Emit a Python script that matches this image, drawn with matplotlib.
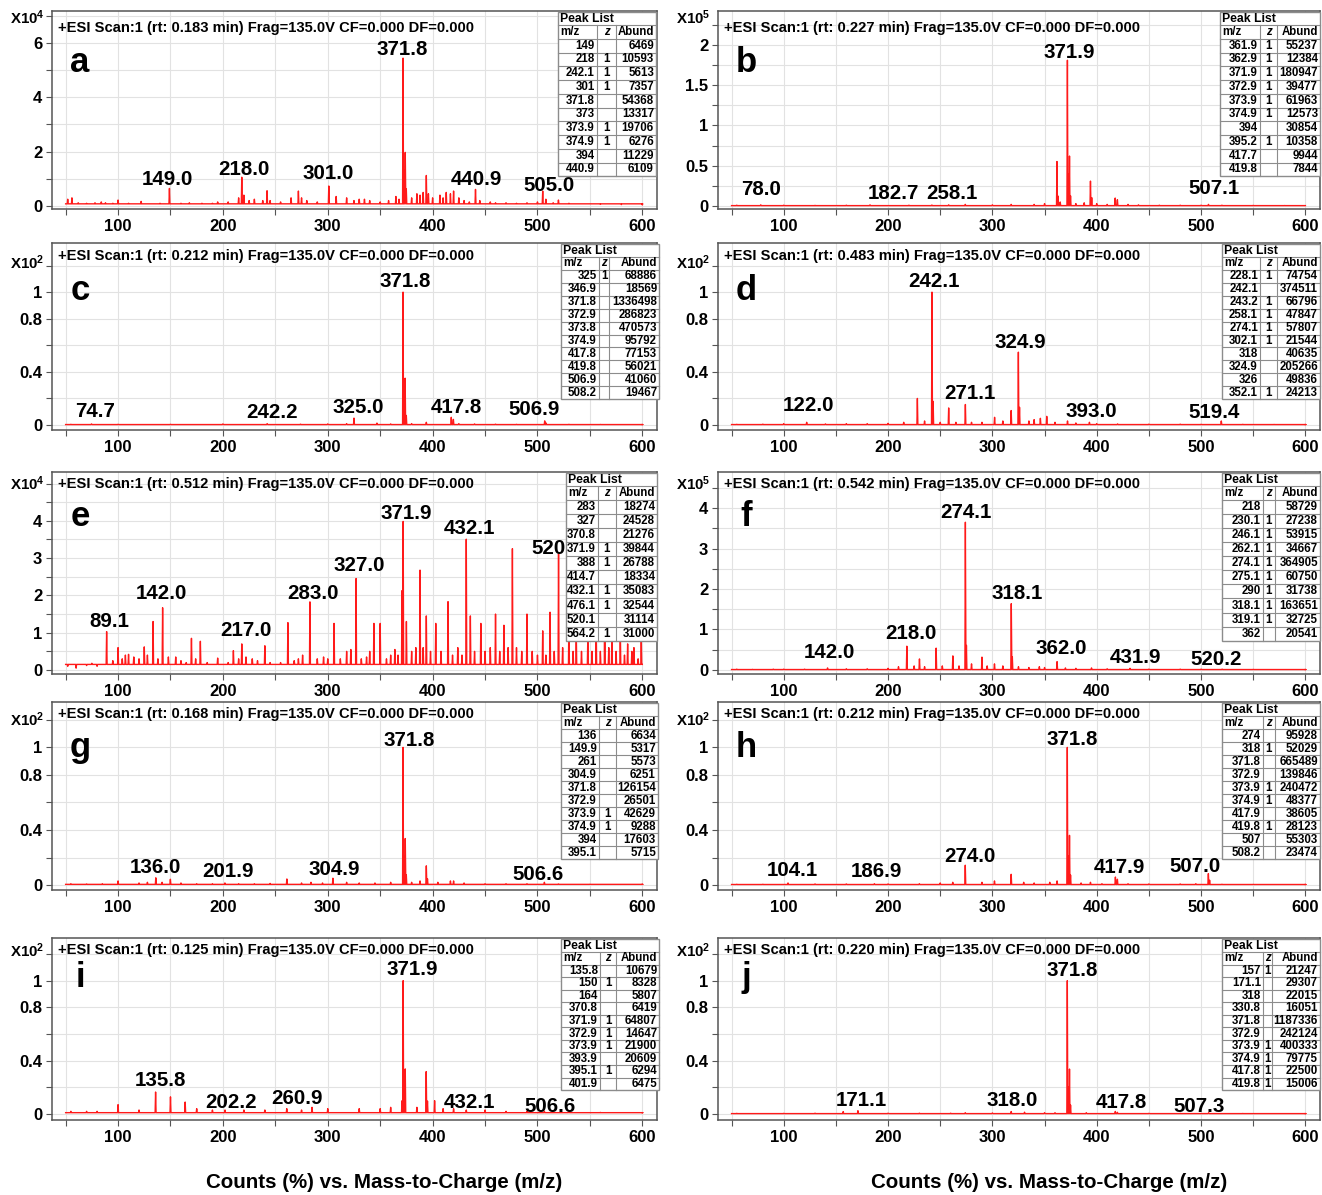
import matplotlib
matplotlib.use("Agg")
import matplotlib.pyplot as plt
from matplotlib import transforms
from matplotlib.patches import Rectangle
from matplotlib.lines import Line2D
from matplotlib.ticker import FixedLocator, MultipleLocator

plt.rcParams['font.family'] = ['Liberation Sans', 'DejaVu Sans']
plt.rcParams['font.weight'] = 'bold'
plt.rcParams['mathtext.fontset'] = 'custom'
plt.rcParams['mathtext.rm'] = 'Liberation Sans:bold'
plt.rcParams['mathtext.bf'] = 'Liberation Sans:bold'
plt.rcParams['mathtext.default'] = 'bf'

# ---------------- data (heights in axis units) ----------------
a_mz = [52, 56, 62, 70, 78, 84, 88, 95, 100, 110, 122, 130, 140, 149, 160, 168, 180, 190, 195, 205,
        215, 218, 220, 225, 230, 238, 242.1, 245, 255, 265, 272, 275, 280, 290, 301, 308, 318, 325,
        330, 335, 340, 350, 358, 365, 368, 371.8, 373, 373.9, 374.9, 380, 385, 388, 391, 394, 396,
        400, 407, 410, 413, 417, 420, 425, 430, 435, 440.9, 445, 455, 460, 470, 480, 490, 500, 505,
        508, 515, 520, 530, 540, 560, 580, 600]
a_h = [0.25, 0.3, 0.12, 0.1, 0.12, 0.15, 0.12, 0.1, 0.22, 0.1, 0.17, 0.08, 0.1, 0.647, 0.1, 0.12, 0.1,
       0.1, 0.15, 0.15, 0.3, 1.059, 0.4, 0.2, 0.25, 0.2, 0.561, 0.2, 0.15, 0.3, 0.55, 0.3, 0.2, 0.15,
       0.736, 0.35, 0.3, 0.2, 0.25, 0.25, 0.2, 0.15, 0.2, 0.35, 0.25, 5.437, 1.332, 1.971, 0.628, 0.3,
       0.45, 0.4, 0.5, 1.123, 0.45, 0.3, 0.4, 0.3, 0.5, 0.45, 0.55, 0.3, 0.2, 0.15, 0.611, 0.2, 0.15,
       0.12, 0.12, 0.1, 0.12, 0.15, 0.55, 0.25, 0.12, 0.22, 0.1, 0.08, 0.06, 0.05, 0.04]
a_lab = ["149.0", "218.0", "301.0", "371.8", "440.9", "505.0"]
a_lab_x = [147.5, 220, 300.5, 371, 442, 511]
a_lab_y = [0.96, 1.36, 1.18, 5.74, 0.96, 0.77]
a_tab = [("149", "", "6469"), ("218", "1", "10593"), ("242.1", "1", "5613"), ("301", "1", "7357"),
         ("371.8", "", "54368"), ("373", "", "13317"), ("373.9", "1", "19706"),
         ("374.9", "1", "6276"), ("394", "", "11229"), ("440.9", "", "6109")]

b_mz = [55, 78, 100, 130, 160, 182.7, 220, 242, 258.1, 274, 300, 318, 340, 350, 361.9, 362.9, 365,
        371.9, 372.9, 373.9, 374.9, 380, 388, 394, 395.2, 400, 410, 417.7, 419.8, 430, 440, 460,
        480, 500, 507.1, 520, 550, 580]
b_h = [0.01, 0.015, 0.01, 0.008, 0.01, 0.015, 0.01, 0.012, 0.015, 0.02, 0.015, 0.02, 0.02, 0.03,
       0.552, 0.124, 0.05, 1.809, 0.395, 0.62, 0.126, 0.03, 0.04, 0.309, 0.104, 0.03, 0.02, 0.099,
       0.078, 0.02, 0.015, 0.01, 0.01, 0.01, 0.02, 0.01, 0.008, 0.006]
b_lab = ["78.0", "182.7", "258.1", "371.9", "507.1"]
b_lab_x = [78.7, 205, 261, 374, 512.7]
b_lab_y = [0.2, 0.16, 0.16, 1.9, 0.22]
b_tab = [("361.9", "1", "55237"), ("362.9", "1", "12384"), ("371.9", "1", "180947"),
         ("372.9", "1", "39477"), ("373.9", "1", "61963"), ("374.9", "1", "12573"),
         ("394", "", "30854"), ("395.2", "1", "10358"), ("417.7", "", "9944"), ("419.8", "", "7844")]

c_mz = [55, 74.7, 100, 150, 200, 242.2, 274, 300, 318, 325, 346.9, 360, 371.8, 372.9, 373.8, 374.9,
        380, 394, 417.8, 419.8, 425, 440, 460, 480, 506.9, 508.2, 530, 560, 600]
c_h = [0.005, 0.008, 0.005, 0.005, 0.008, 0.01, 0.006, 0.008, 0.01, 0.0515, 0.0139, 0.008, 1.0,
       0.2146, 0.352, 0.0717, 0.01, 0.02, 0.0577, 0.0419, 0.01, 0.008, 0.006, 0.005, 0.0307, 0.0146,
       0.005, 0.004, 0.003]
c_lab = ["74.7", "242.2", "325.0", "371.8", "417.8", "506.9"]
c_lab_x = [77.7, 247, 329, 374, 423, 496.5]
c_lab_y = [0.105, 0.09, 0.128, 1.083, 0.135, 0.113]
c_tab = [("325", "1", "68886"), ("346.9", "", "18569"), ("371.8", "", "1336498"),
         ("372.9", "", "286823"), ("373.8", "", "470573"), ("374.9", "", "95792"),
         ("417.8", "", "77153"), ("419.8", "", "56021"), ("506.9", "", "41060"),
         ("508.2", "", "19467")]

d_mz = [55, 80, 100, 122, 140, 160, 180, 200, 215, 228.1, 235, 242.1, 243.2, 250, 258.1, 265, 274.1,
        280, 290, 302.1, 310, 318, 324.9, 326, 335, 340, 346, 352.1, 360, 372, 380, 393, 400, 420,
        450, 480, 500, 519.4, 540, 570, 600]
d_h = [0.005, 0.006, 0.01, 0.02, 0.008, 0.01, 0.01, 0.012, 0.02, 0.1996, 0.03, 1.0, 0.178, 0.02,
       0.128, 0.02, 0.154, 0.02, 0.02, 0.0575, 0.03, 0.1085, 0.548, 0.133, 0.03, 0.04, 0.05, 0.0647,
       0.02, 0.03, 0.015, 0.02, 0.01, 0.008, 0.006, 0.006, 0.005, 0.03, 0.005, 0.004, 0.003]
d_lab = ["122.0", "242.1", "271.1", "324.9", "393.0", "519.4"]
d_lab_x = [123.6, 244, 278.5, 327, 395, 512.7]
d_lab_y = [0.143, 1.083, 0.24, 0.624, 0.098, 0.09]
d_tab = [("228.1", "1", "74754"), ("242.1", "", "374511"), ("243.2", "1", "66796"),
         ("258.1", "1", "47847"), ("274.1", "1", "57807"), ("302.1", "1", "21544"),
         ("318", "", "40635"), ("324.9", "", "205266"), ("326", "", "49836"), ("352.1", "1", "24213")]

e_mz = [52, 60, 70, 75, 80, 89.1, 95, 100, 104, 107, 110, 115, 120, 125, 128, 133.4, 138, 142.5,
        148, 155, 160, 165, 170, 174, 178.5, 185, 195, 200, 205, 210, 215, 218, 222, 228, 233, 240,
        245, 250, 255, 262, 268, 272, 276, 283, 290, 296, 300, 306, 312, 318, 322, 327, 332, 337,
        340, 344, 350, 356, 360, 364, 367, 370.8, 371.9, 375, 380, 384, 388, 391, 394, 398, 403,
        408, 414.7, 419, 424, 428, 432.1, 436, 440, 446, 450, 455, 460, 464, 468, 472, 476.1, 480,
        485, 490, 495, 500, 505, 508, 512, 516, 520.1, 524, 530, 534, 537, 542, 548, 552, 556, 560,
        564.2, 568, 571, 575, 579, 583, 586, 590, 592, 596, 599]
e_h = [0.1, 0.05, 0.12, 0.18, 0.1, 1.03, 0.25, 0.6, 0.3, 0.4, 0.42, 0.35, 0.3, 0.62, 0.4, 1.3, 0.3,
       1.67, 0.35, 0.35, 0.25, 0.2, 0.85, 0.3, 0.77, 0.2, 0.32, 0.15, 0.2, 0.52, 0.3, 0.7, 0.35, 0.3,
       0.25, 0.65, 0.2, 0.15, 0.2, 1.27, 0.25, 0.3, 0.4, 1.827, 0.3, 0.35, 0.3, 1.25, 0.3, 0.5, 0.55,
       2.453, 0.3, 0.35, 0.5, 1.25, 1.25, 0.3, 0.4, 0.55, 0.4, 2.128, 3.984, 1.3, 0.5, 0.6, 2.679,
       0.6, 1.45, 0.5, 1.25, 0.5, 1.833, 0.4, 0.6, 0.4, 3.508, 1.45, 0.5, 1.25, 0.5, 0.6, 1.5, 0.5,
       1.2, 0.6, 3.254, 0.6, 0.5, 1.5, 0.5, 0.4, 1.05, 0.4, 1.55, 0.5, 3.111, 0.6, 1.4, 0.5, 1.0,
       0.5, 0.8, 0.5, 1.2, 0.5, 3.1, 0.6, 1.0, 0.5, 1.1, 0.4, 0.7, 0.5, 0.6, 0.3, 0.8]
e_lab = ["89.1", "142.0", "217.0", "283.0", "327.0", "371.9", "432.1", "520"]
e_lab_x = [92, 141.8, 222, 286, 330, 375, 435, 511]
e_lab_y = [1.29, 2.04, 1.07, 2.06, 2.79, 4.21, 3.8, 3.27]
e_tab = [("283", "", "18274"), ("327", "", "24528"), ("370.8", "", "21276"), ("371.9", "1", "39844"),
         ("388", "1", "26788"), ("414.7", "", "18334"), ("432.1", "1", "35083"),
         ("476.1", "1", "32544"), ("520.1", "", "31114"), ("564.2", "1", "31000")]

f_mz = [55, 70, 90, 100, 120, 142, 160, 180, 200, 210, 218, 225, 230.1, 235, 246.1, 252, 262.1, 268,
        274.1, 275.1, 280, 290, 295, 302, 310, 318.1, 319.1, 325, 335, 345, 350, 362, 370, 380, 395,
        410, 431.9, 450, 480, 500, 520.2, 550, 580, 600]
f_h = [0.02, 0.015, 0.02, 0.02, 0.02, 0.05, 0.03, 0.03, 0.04, 0.08, 0.587, 0.1, 0.272, 0.08, 0.539,
       0.1, 0.347, 0.1, 3.649, 0.6075, 0.15, 0.317, 0.1, 0.15, 0.1, 1.637, 0.327, 0.08, 0.06, 0.08,
       0.06, 0.205, 0.05, 0.04, 0.05, 0.03, 0.04, 0.02, 0.02, 0.02, 0.02, 0.015, 0.012, 0.01]
f_lab = ["142.0", "218.0", "274.1", "318.1", "362.0", "431.9", "520.2"]
f_lab_x = [143.7, 222, 274.7, 324, 366, 437, 514.6]
f_lab_y = [0.44, 0.89, 3.9, 1.9, 0.52, 0.3, 0.27]
f_tab = [("218", "", "58729"), ("230.1", "1", "27238"), ("246.1", "1", "53915"),
         ("262.1", "1", "34667"), ("274.1", "1", "364905"), ("275.1", "1", "60750"),
         ("290", "1", "31738"), ("318.1", "1", "163651"), ("319.1", "1", "32725"), ("362", "", "20541")]

g_mz = [55, 70, 85, 100, 120, 128, 136, 142, 149.9, 160, 175, 190, 201.9, 215, 230, 245, 261, 275,
        284, 295, 304.9, 318, 330, 345, 360, 371.8, 372.9, 373.9, 374.9, 380, 388, 394, 395.1, 405,
        417, 420, 430, 450, 470, 490, 506.6, 520, 550, 600]
g_h = [0.01, 0.008, 0.01, 0.03, 0.015, 0.02, 0.0526, 0.02, 0.0421, 0.015, 0.01, 0.01, 0.015, 0.01,
       0.01, 0.012, 0.0442, 0.015, 0.02, 0.015, 0.0496, 0.02, 0.015, 0.015, 0.02, 1.0, 0.21, 0.338,
       0.0736, 0.02, 0.03, 0.1395, 0.0453, 0.02, 0.03, 0.03, 0.015, 0.01, 0.01, 0.01, 0.02, 0.008,
       0.006, 0.005]
g_lab = ["136.0", "201.9", "304.9", "371.8", "506.6"]
g_lab_x = [136, 205, 306, 378, 501]
g_lab_y = [0.124, 0.095, 0.116, 1.047, 0.073]
g_tab = [("136", "", "6634"), ("149.9", "", "5317"), ("261", "", "5573"), ("304.9", "", "6251"),
         ("371.8", "", "126154"), ("372.9", "", "26501"), ("373.9", "1", "42629"),
         ("374.9", "1", "9288"), ("394", "", "17603"), ("395.1", "", "5715")]

h_mz = [55, 80, 104.1, 130, 160, 186.9, 200, 230, 250, 262, 274, 290, 302, 318, 330, 340, 355, 362,
        371.8, 372.9, 373.9, 374.9, 385, 394, 405, 417.9, 419.8, 430, 450, 480, 495, 507, 508.2,
        520, 550, 600]
h_h = [0.006, 0.006, 0.015, 0.008, 0.008, 0.01, 0.008, 0.01, 0.015, 0.02, 0.144, 0.02, 0.03, 0.078,
       0.02, 0.015, 0.02, 0.03, 1.0, 0.21, 0.361, 0.0727, 0.015, 0.02, 0.01, 0.058, 0.0423, 0.01,
       0.008, 0.008, 0.01, 0.0831, 0.0353, 0.006, 0.005, 0.004]
h_lab = ["104.1", "186.9", "274.0", "371.8", "417.9", "507.0"]
h_lab_x = [108, 188.6, 278.5, 376, 422, 494.6]
h_lab_y = [0.109, 0.102, 0.204, 1.055, 0.13, 0.138]
h_tab = [("274", "", "95928"), ("318", "1", "52029"), ("371.8", "", "665489"),
         ("372.9", "", "139846"), ("373.9", "1", "240472"), ("374.9", "1", "48377"),
         ("417.9", "", "38605"), ("419.8", "1", "28123"), ("507", "", "55303"), ("508.2", "", "23474")]

i_mz = [55, 70, 80, 100, 120, 135.8, 150, 164, 175, 190, 202, 220, 240, 260.9, 275, 285, 300, 330,
        350, 360, 370.8, 371.9, 372.9, 373.9, 385, 393.9, 395.1, 401.9, 410, 420, 432.1, 450, 470,
        490, 506.6, 530, 560, 600]
i_h = [0.02, 0.02, 0.02, 0.07, 0.03, 0.1648, 0.1285, 0.0896, 0.04, 0.03, 0.03, 0.03, 0.03, 0.04,
       0.03, 0.05, 0.04, 0.04, 0.04, 0.05, 0.099, 1.0, 0.226, 0.338, 0.05, 0.318, 0.097, 0.0999,
       0.04, 0.04, 0.03, 0.03, 0.02, 0.02, 0.02, 0.015, 0.012, 0.01]
i_lab = ["135.8", "202.2", "260.9", "371.9", "432.1", "506.6"]
i_lab_x = [140.8, 207.7, 270.8, 380.8, 435, 511.8]
i_lab_y = [0.248, 0.09, 0.113, 1.083, 0.09, 0.06]
i_tab = [("135.8", "", "10679"), ("150", "1", "8328"), ("164", "", "5807"), ("370.8", "", "6419"),
         ("371.9", "1", "64807"), ("372.9", "1", "14647"), ("373.9", "1", "21900"),
         ("393.9", "", "20609"), ("395.1", "1", "6294"), ("401.9", "", "6475")]

j_mz = [55, 100, 130, 157, 171.1, 200, 230, 260, 274, 300, 318, 330.8, 350, 360, 371.8, 372.9,
        373.9, 374.9, 390, 417.8, 419.8, 450, 480, 507.3, 540, 600]
j_h = [0.005, 0.005, 0.006, 0.0179, 0.0247, 0.006, 0.006, 0.006, 0.01, 0.008, 0.0185, 0.0135, 0.01,
       0.01, 1.0, 0.204, 0.337, 0.0672, 0.01, 0.019, 0.0126, 0.005, 0.005, 0.01, 0.004, 0.003]
j_lab = ["171.1", "318.0", "371.8", "417.8", "507.3"]
j_lab_x = [174, 318.6, 376, 424, 498.4]
j_lab_y = [0.098, 0.098, 1.075, 0.09, 0.053]
j_tab = [("157", "1", "21247"), ("171.1", "", "29307"), ("318", "", "22015"), ("330.8", "", "16051"),
         ("371.8", "", "1187336"), ("372.9", "", "242124"), ("373.9", "1", "400333"),
         ("374.9", "1", "79775"), ("417.8", "1", "22500"), ("419.8", "1", "15006")]

rt_times = ["0.183", "0.227", "0.212", "0.483", "0.512", "0.542", "0.168", "0.212", "0.125", "0.220"]
exponents = [4, 5, 2, 2, 4, 5, 2, 2, 2, 2]

# ---------------- layout (pixels) ----------------
W, H = 1322, 1195
fig = plt.figure(figsize=(W / 100, H / 100), dpi=100)
PX = transforms.Affine2D().scale(1.0 / W, -1.0 / H).translate(0, 1) + fig.transFigure

col_px = [(52, 657), (718, 1320)]
row_px = [(11, 209), (243, 430), (472, 674), (702, 890), (938, 1120)]
exp_y = [18, 263, 484, 720, 951]
exp_x = [10, 676]
title_y = [28, 256, 484, 714, 950]
letter_y = [62, 290, 517, 748, 978]
RED = '#ff1a1a'
GRID = '#e2e2e2'
LINEC = '#8c8c8c'


def spectrum_xy(mz, h, base):
    xs, ys = [50], [base]
    for m, v in sorted(zip(mz, h)):
        xs += [m - 0.45, m, m + 0.45]
        ys += [base, v, base]
    xs.append(600)
    ys.append(base)
    return xs, ys


def draw_table(cols, top, panel_h, rows):
    left, c1, c2, right = cols
    head_h = 13
    n = len(rows) + 1
    row_h = (0.83 * panel_h - head_h) / n
    bottom = top + head_h + n * row_h
    fig.add_artist(Rectangle((left, top), right - left, bottom - top, transform=PX,
                             facecolor='white', edgecolor=LINEC, lw=1.0, zorder=5))
    for k in range(n):
        y = top + head_h + k * row_h
        fig.add_artist(Line2D([left, right], [y, y], transform=PX, color=LINEC, lw=0.8, zorder=6))
    for x in (c1, c2):
        fig.add_artist(Line2D([x, x], [top + head_h, bottom], transform=PX, color=LINEC, lw=0.8,
                              zorder=6))
    fs = 8.3
    fig.text(left + 2, top + head_h / 2 + 0.5, "Peak List", transform=PX, ha='left', va='center',
             fontsize=8.8, zorder=7)
    yh = top + head_h + row_h / 2
    fig.text(left + 2, yh, "m/z", transform=PX, ha='left', va='center', fontsize=fs, zorder=7)
    fig.text((c1 + c2) / 2, yh, "z", transform=PX, ha='center', va='center', fontsize=fs,
             style='italic', zorder=7)
    fig.text(right - 2, yh, "Abund", transform=PX, ha='right', va='center', fontsize=fs, zorder=7)
    for k, (m, z, ab) in enumerate(rows):
        y = top + head_h + (k + 1.5) * row_h
        fig.text(c1 - 2, y, m, transform=PX, ha='right', va='center', fontsize=fs, zorder=7)
        if z:
            fig.text((c1 + c2) / 2, y, z, transform=PX, ha='center', va='center', fontsize=fs,
                     zorder=7)
        fig.text(right - 2, y, ab, transform=PX, ha='right', va='center', fontsize=fs, zorder=7)


def panel(idx, letter, mz, h, base, ylim, yticks, ylabels, yminor, lab, lab_x, lab_y, tab, tcols):
    r, c = idx // 2, idx % 2
    x0, x1 = col_px[c]
    t, b = row_px[r]
    ax = fig.add_axes([x0 / W, 1 - b / H, (x1 - x0) / W, (b - t) / H])
    xs, ys = spectrum_xy(mz, h, base)
    ax.plot(xs, ys, color=RED, lw=1.0)
    ax.set_xlim(37, 614)
    ax.set_ylim(*ylim)
    ax.xaxis.set_major_locator(FixedLocator([100, 200, 300, 400, 500, 600]))
    ax.xaxis.set_minor_locator(MultipleLocator(50))
    ax.yaxis.set_major_locator(FixedLocator(yticks))
    ax.set_yticklabels(ylabels)
    ax.yaxis.set_minor_locator(MultipleLocator(yminor))
    ax.grid(which='both', color=GRID, lw=0.8)
    ax.set_axisbelow(True)
    ax.tick_params(which='both', direction='out', length=4, width=0.8, color='#555555')
    ax.tick_params(axis='both', labelsize=12, pad=3)
    for s in ax.spines.values():
        s.set_color('#555555')
        s.set_linewidth(1.1)
    for txt, lx, ly in zip(lab, lab_x, lab_y):
        ax.text(lx, ly, txt, ha='center', va='center', fontsize=14.8, zorder=4)
    fig.text(x0 + 28, letter_y[r], letter, transform=PX, ha='center', va='center', fontsize=25)
    fig.text(x0 + 6, title_y[r],
             "+ESI Scan:1 (rt: %s min) Frag=135.0V CF=0.000 DF=0.000" % rt_times[idx],
             transform=PX, ha='left', va='center', fontsize=10.6)
    fig.text(exp_x[c], exp_y[r], r"X10$^{%d}$" % exponents[idx], transform=PX, ha='left',
             va='center', fontsize=10.8)
    draw_table(tcols, t + 1, b - t, tab)
    return ax


rel = ["0", "0.4", "0.8", "1"]
relt = [0, 0.4, 0.8, 1]
panel(0, "a", a_mz, a_h, 0.08, (-0.11, 7.17), [0, 2, 4, 6], ["0", "2", "4", "6"], 1,
      a_lab, a_lab_x, a_lab_y, a_tab, (558, 597, 616, 656))
panel(1, "b", b_mz, b_h, 0.005, (-0.037, 2.42), [0, 0.5, 1, 1.5, 2], ["0", "0.5", "1", "1.5", "2"],
      0.25, b_lab, b_lab_x, b_lab_y, b_tab, (1220, 1260, 1277, 1320))
panel(2, "c", c_mz, c_h, 0.003, (-0.038, 1.37), relt, rel, 0.2,
      c_lab, c_lab_x, c_lab_y, c_tab, (561, 599, 609, 659))
panel(3, "d", d_mz, d_h, 0.003, (-0.038, 1.37), relt, rel, 0.2,
      d_lab, d_lab_x, d_lab_y, d_tab, (1222, 1260, 1277, 1320))
panel(4, "e", e_mz, e_h, 0.15, (-0.107, 5.31), [0, 1, 2, 3, 4], ["0", "1", "2", "3", "4"], 0.5,
      e_lab, e_lab_x, e_lab_y, e_tab, (566, 598, 616, 657))
panel(5, "f", f_mz, f_h, 0.01, (-0.1, 4.89), [0, 1, 2, 3, 4], ["0", "1", "2", "3", "4"], 0.5,
      f_lab, f_lab_x, f_lab_y, f_tab, (1222, 1263, 1275, 1320))
panel(6, "g", g_mz, g_h, 0.005, (-0.036, 1.33), relt, rel, 0.2,
      g_lab, g_lab_x, g_lab_y, g_tab, (561, 599, 616, 658))
panel(7, "h", h_mz, h_h, 0.004, (-0.036, 1.33), relt, rel, 0.2,
      h_lab, h_lab_x, h_lab_y, h_tab, (1222, 1263, 1275, 1320))
panel(8, "i", i_mz, i_h, 0.01, (-0.045, 1.32), relt, rel, 0.2,
      i_lab, i_lab_x, i_lab_y, i_tab, (561, 600, 616, 659))
panel(9, "j", j_mz, j_h, 0.003, (-0.045, 1.32), relt, rel, 0.2,
      j_lab, j_lab_x, j_lab_y, j_tab, (1222, 1263, 1272, 1320))

for c in range(2):
    x0, x1 = col_px[c]
    fig.text((x0 + x1) / 2 + 30, 1183, "Counts (%) vs. Mass-to-Charge (m/z)", transform=PX,
             ha='center', va='center', fontsize=14.8)

fig.savefig("out.png", dpi=100, facecolor='white')
